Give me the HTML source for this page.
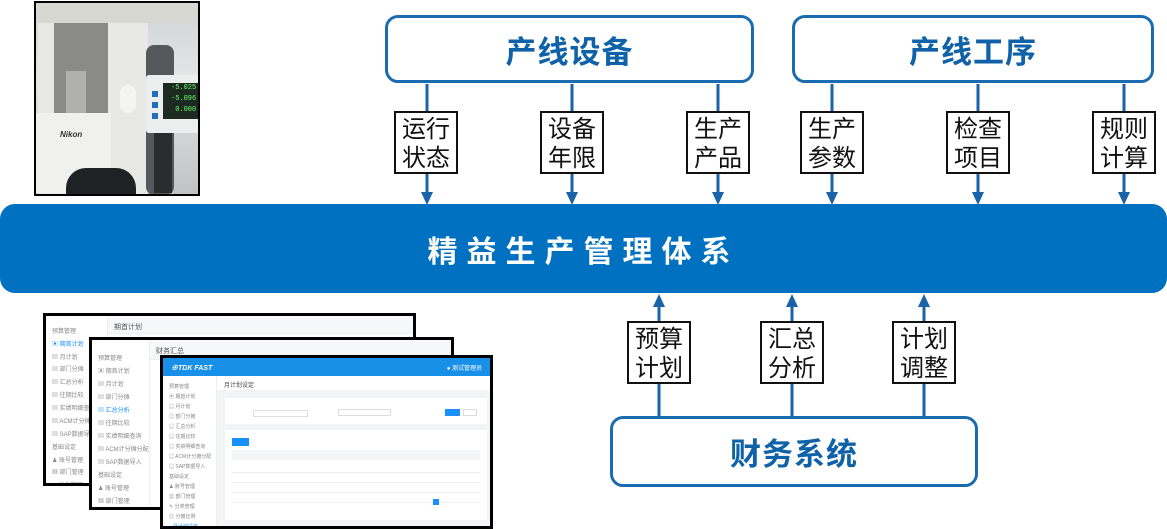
<!DOCTYPE html>
<html><head><meta charset="utf-8">
<style>
*{margin:0;padding:0;box-sizing:border-box}
body{width:1167px;height:529px;background:#fff;position:relative;overflow:hidden;font-family:"Liberation Sans","Noto Sans CJK SC",sans-serif}
.a{position:absolute}
.big{position:absolute;border:3px solid #1a6bb0;border-radius:13px;background:#fff;color:#0f62a8;font-weight:bold;font-size:31px;display:flex;align-items:center;justify-content:center;letter-spacing:1px}
.lb{position:absolute;width:64px;height:63px;border:2px solid #111;background:#fff;font-size:24px;line-height:29px;text-align:center;padding-top:2px;color:#111}
.band{position:absolute;left:0;top:204px;width:1167px;height:89px;background:#0070c0;border-radius:15px;color:#fff;font-weight:bold;font-size:30px;letter-spacing:9px;display:flex;align-items:center;justify-content:center}
.win{position:absolute;border:3px solid #000;background:#fff;overflow:hidden}
.sb{position:absolute;left:0;top:0;bottom:0;background:#fff;border-right:1px solid #eee}
.it{position:absolute;left:6px;font-size:6px;color:#888;white-space:nowrap}
</style></head><body>

<!-- photo -->
<div class="a" style="left:34px;top:1px;width:166px;height:195px;background:#000;padding:2px">
 <div style="position:relative;width:162px;height:191px;background:linear-gradient(180deg,#cfd3d4 0%,#e4e6e6 40%,#bfc3c4 100%);overflow:hidden">
  <div class="a" style="left:0;top:0;width:162px;height:20px;background:#d8d8d2"></div>
  <div class="a" style="left:2px;top:20px;width:110px;height:175px;background:#e8e8e6"></div>
  <div class="a" style="left:18px;top:20px;width:54px;height:95px;background:#8a8b88"></div>
  <div class="a" style="left:30px;top:68px;width:20px;height:50px;background:#b0b0ad"></div>
  <div class="a" style="left:0;top:110px;width:75px;height:80px;background:#f0f0ee"></div>
  <div class="a" style="left:24px;top:127px;font-size:8px;font-weight:bold;font-style:italic;color:#333">Nikon</div>
  <div class="a" style="left:110px;top:42px;width:28px;height:150px;background:#55595b;border-radius:8px"></div>
  <div class="a" style="left:30px;top:165px;width:70px;height:40px;background:#1f2224;border-radius:20px 20px 0 0"></div>
  <div class="a" style="left:110px;top:72px;width:60px;height:58px;background:#eceeed;border-radius:3px"></div>
  <div class="a" style="left:127px;top:80px;width:42px;height:36px;background:#1c2a22"></div>
  <div class="a" style="left:135px;top:80px;font-size:7px;line-height:11px;color:#6f6;font-family:'Liberation Mono',monospace">-5.025<br>-5.096<br>&nbsp;0.000</div>
  <div class="a" style="left:116px;top:88px;width:6px;height:6px;background:#1e6fc0"></div>
  <div class="a" style="left:116px;top:99px;width:6px;height:6px;background:#1e6fc0"></div>
  <div class="a" style="left:116px;top:110px;width:6px;height:6px;background:#1e6fc0"></div>
  <div class="a" style="left:84px;top:82px;width:16px;height:28px;background:#f4f4f2;border-radius:8px"></div>
  <div class="a" style="left:118px;top:130px;width:18px;height:60px;background:#2a2d2e"></div>
 </div>
</div>

<!-- screenshots -->
<div class="win" style="left:43px;top:313px;width:373px;height:173px">
 <div class="sb" style="width:62px"></div>
 <div class="a" style="left:62px;top:0;right:0;height:18px;background:#f6f7f9;border-bottom:1px solid #eee"></div>
 <div class="it" style="left:68px;top:6px;font-size:7px;color:#555">期首计划</div>
 <div class="it" style="top:10px">预算管理</div><div class="it" style="top:23px;color:#1890ff">▣ 期首计划</div>
 <div class="it" style="top:36px">▤ 月计划</div><div class="it" style="top:48px">▤ 部门分摊</div>
 <div class="it" style="top:61px">▤ 汇总分析</div><div class="it" style="top:74px">▤ 往期比较</div>
 <div class="it" style="top:87px">▤ 实绩明细查询</div><div class="it" style="top:100px">▤ ACM计分摊分配</div>
 <div class="it" style="top:113px">▤ SAP数据导入</div><div class="it" style="top:126px">基础设定</div>
 <div class="it" style="top:139px">♟ 账号管理</div><div class="it" style="top:151px">▦ 部门管理</div><div class="it" style="top:164px">✎ 分类管理</div>
</div>
<div class="win" style="left:89px;top:337px;width:365px;height:173px">
 <div class="sb" style="width:58px"></div>
 <div class="a" style="left:58px;top:0;right:0;height:20px;background:#f6f7f9;border-bottom:1px solid #eee"></div>
 <div class="it" style="left:64px;top:6px;font-size:7px;color:#555">财务汇总</div>
 <div class="it" style="top:13px">预算管理</div><div class="it" style="top:26px">▣ 期首计划</div>
 <div class="it" style="top:39px">▤ 月计划</div><div class="it" style="top:52px">▤ 部门分摊</div>
 <div class="it" style="top:65px;color:#1890ff">▤ 汇总分析</div><div class="it" style="top:78px">▤ 往期比较</div>
 <div class="it" style="top:91px">▤ 实绩明细查询</div><div class="it" style="top:104px">▤ ACM计分摊分配</div>
 <div class="it" style="top:117px">▤ SAP数据导入</div><div class="it" style="top:130px">基础设定</div>
 <div class="it" style="top:143px">♟ 账号管理</div><div class="it" style="top:156px">▦ 部门管理</div>
</div>
<div class="win" style="left:160px;top:355px;width:333px;height:174px;background:#f3f4f6">
 <div class="a" style="left:0;top:0;right:0;height:18px;background:#1890e8"></div>
 <div class="a" style="left:8px;top:5px;font-size:7px;font-weight:bold;font-style:italic;color:#fff">⊕TDK FAST</div>
 <div class="a" style="right:8px;top:5px;font-size:6px;color:#fff">● 测试管理员</div>
 <div class="sb" style="top:18px;width:54px"></div>
 <div class="it" style="top:25px;font-size:5px">预算管理</div><div class="it" style="top:35px;font-size:5px">▣ 期首计划</div>
 <div class="it" style="top:45px;font-size:5px">▤ 月计划</div><div class="it" style="top:55px;font-size:5px">▤ 部门分摊</div>
 <div class="it" style="top:65px;font-size:5px">▤ 汇总分析</div><div class="it" style="top:75px;font-size:5px">▤ 往期比较</div>
 <div class="it" style="top:85px;font-size:5px">▤ 实绩明细查询</div><div class="it" style="top:95px;font-size:5px">▤ ACM计分摊分配</div>
 <div class="it" style="top:105px;font-size:5px">▤ SAP数据导入</div><div class="it" style="top:115px;font-size:5px">基础设定</div>
 <div class="it" style="top:125px;font-size:5px">♟ 账号管理</div><div class="it" style="top:135px;font-size:5px">▦ 部门管理</div>
 <div class="it" style="top:145px;font-size:5px">✎ 分类管理</div><div class="it" style="top:155px;font-size:5px">▥ 分摊比例</div>
 <div class="it" style="top:165px;font-size:5px;color:#1890ff">◂ 月计划设定</div>
 <div class="a" style="left:54px;top:18px;right:0;height:14px;background:#fff"></div>
 <div class="a" style="left:61px;top:22px;font-size:6px;color:#444">月计划设定</div>
 <div class="a" style="left:62px;top:40px;width:262px;height:26px;background:#fff"></div>
 <div class="a" style="left:90px;top:52px;width:55px;height:7px;border:1px solid #ddd"></div>
 <div class="a" style="left:175px;top:51px;width:53px;height:7px;border:1px solid #ddd"></div>
 <div class="a" style="left:282px;top:51px;width:15px;height:7px;background:#1890ff"></div>
 <div class="a" style="left:300px;top:51px;width:14px;height:7px;border:1px solid #ddd"></div>
 <div class="a" style="left:62px;top:72px;width:262px;height:90px;background:#fff"></div>
 <div class="a" style="left:69px;top:80px;width:17px;height:8px;background:#1890ff"></div>
 <div class="a" style="left:69px;top:92px;width:248px;height:10px;background:#f5f6f8"></div>
 <div class="a" style="left:69px;top:105px;width:248px;height:40px;background:repeating-linear-gradient(180deg,#fff 0 9px,#eee 9px 10px)"></div>
 <div class="a" style="left:270px;top:141px;width:6px;height:6px;background:#1890ff"></div>
</div>

<!-- connectors -->
<svg class="a" style="left:0;top:0" width="1167" height="529">
 <g stroke="#1a63a8" stroke-width="3" fill="none">
  <line x1="427" y1="84" x2="427" y2="195"/><line x1="572" y1="84" x2="572" y2="195"/><line x1="718" y1="84" x2="718" y2="195"/>
  <line x1="832" y1="84" x2="832" y2="195"/><line x1="978" y1="84" x2="978" y2="195"/><line x1="1124" y1="84" x2="1124" y2="195"/>
  <line x1="659" y1="305" x2="659" y2="416"/><line x1="792" y1="305" x2="792" y2="416"/><line x1="924" y1="305" x2="924" y2="416"/>
 </g>
 <g fill="#1a63a8">
  <polygon points="421,192 433,192 427,205"/><polygon points="566,192 578,192 572,205"/><polygon points="712,192 724,192 718,205"/>
  <polygon points="826,192 838,192 832,205"/><polygon points="972,192 984,192 978,205"/><polygon points="1118,192 1130,192 1124,205"/>
  <polygon points="653,307 665,307 659,294"/><polygon points="786,307 798,307 792,294"/><polygon points="918,307 930,307 924,294"/>
 </g>
</svg>

<div class="big" style="left:385px;top:15px;width:369px;height:68px">产线设备</div>
<div class="big" style="left:792px;top:15px;width:362px;height:68px">产线工序</div>
<div class="big" style="left:610px;top:416px;width:368px;height:71px">财务系统</div>
<div class="band">精益生产管理体系</div>

<div class="lb" style="left:394px;top:111px">运行<br>状态</div>
<div class="lb" style="left:540px;top:111px">设备<br>年限</div>
<div class="lb" style="left:686px;top:111px">生产<br>产品</div>
<div class="lb" style="left:800px;top:111px">生产<br>参数</div>
<div class="lb" style="left:946px;top:111px">检查<br>项目</div>
<div class="lb" style="left:1092px;top:111px">规则<br>计算</div>
<div class="lb" style="left:627px;top:321px">预算<br>计划</div>
<div class="lb" style="left:760px;top:321px">汇总<br>分析</div>
<div class="lb" style="left:892px;top:321px">计划<br>调整</div>
</body></html>
